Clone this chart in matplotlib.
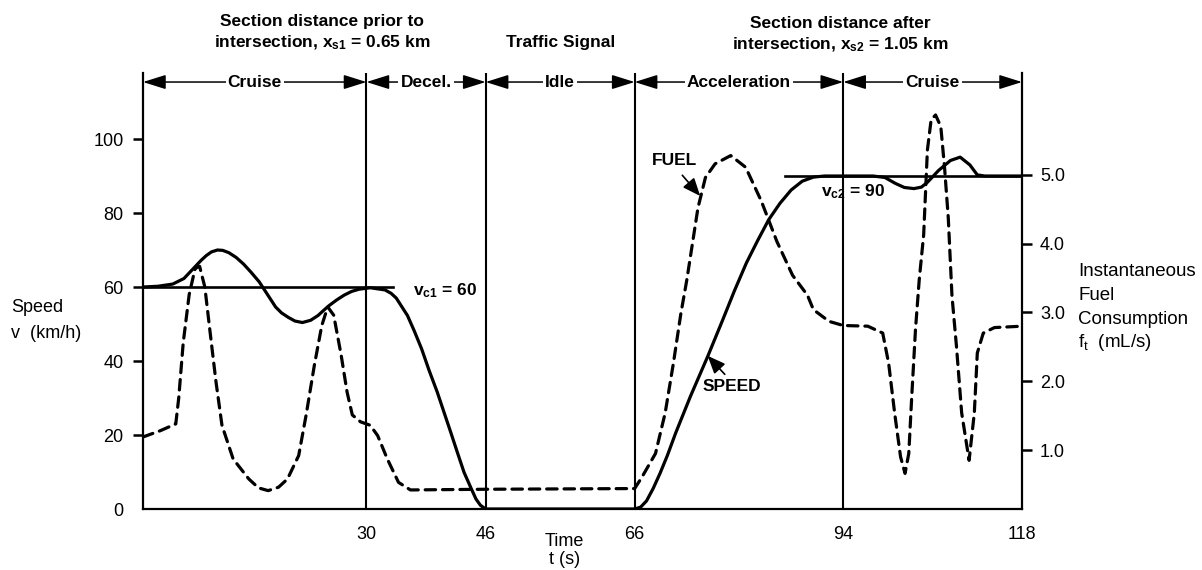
import matplotlib
matplotlib.use("Agg")
import matplotlib.pyplot as plt
from matplotlib.transforms import blended_transform_factory

plt.rcParams["font.family"] = ["Liberation Sans", "DejaVu Sans"]
plt.rcParams["mathtext.fontset"] = "custom"
plt.rcParams["mathtext.rm"] = "Liberation Sans"
plt.rcParams["mathtext.bf"] = "Liberation Sans:bold"
plt.rcParams["mathtext.it"] = "Liberation Sans:italic"
plt.rcParams["lines.scale_dashes"] = False

# ---- data -------------------------------------------------------------
speed_t = [0, 2, 4, 5.5, 6.2, 7, 7.8, 8.5, 9.2, 10, 10.7, 11.5, 12.5, 13.5,
           14.5, 15.6, 16.7, 17.8, 18.6, 19.5, 20.4, 21.4, 22.5, 23.5, 24.2,
           25, 26, 27, 28, 29, 30.5, 32.5, 33.3, 34, 35.5, 36.4, 37.4, 38.4,
           39.5, 40.4, 41.3, 42.2, 43.1, 44, 44.7, 45.3, 46,
           66, 66.8, 67.6, 68.5, 69.4, 70.4, 71.5, 73.5, 75.8, 77.8, 79.4,
           81, 82.5, 84, 85.5, 87, 88.5, 90, 91.5, 94, 98, 99.6, 101, 102.2,
           103.5, 104.5, 105.3, 106.8, 108.4, 109.7, 111, 112, 113, 118]
speed_v = [60, 60.2, 60.8, 62.3, 63.8, 65.5, 67.2, 68.5, 69.5, 70, 69.9, 69.3,
           68, 66.2, 64, 61.4, 58, 54.6, 53, 51.8, 50.8, 50.4, 51, 52.3, 53.6,
           55, 56.5, 57.8, 58.8, 59.4, 59.8, 59.2, 58.3, 57, 52.3, 48.2, 43.3,
           37.5, 31.6, 26.2, 20.8, 15.3, 9.9, 5.8, 2.7, 1.0, 0,
           0, 0.5, 2.2, 5.6, 9.6, 14.5, 20.5, 30.5, 41.2, 51, 59, 66.5, 72.5,
           78.2, 82.6, 86.2, 88.6, 89.7, 90, 90, 90, 89.6, 88, 86.9, 86.6,
           87.0, 88.3, 91.5, 94.2, 95.1, 93, 90.3, 90, 90]

fuel_t = [0, 2.3, 4.4, 4.8, 5.4, 6.2, 7.0, 7.6, 8.3, 9.0, 9.8, 10.6, 12.1,
          14.2, 15.5, 16.8, 18.2, 19.4, 20.9, 21.9, 23.0, 24.0, 24.8, 25.6,
          26.6, 27.4, 28.1, 29.2, 30.5, 31.5, 32.8, 34.3, 35.9, 46, 66, 67,
          68.8, 70.1, 71.2, 72.2, 73.0, 74.5, 75.5, 76.8, 78.9, 80.9, 83, 85.1,
          87.2, 89.2, 90.0, 92.1, 94, 97.3, 99.3, 100.1, 100.9, 101.7, 102.3,
          102.8, 103.2, 103.7, 104.2, 104.8, 105.3, 105.8, 106.4, 107.1, 107.6,
          108.1, 108.6, 109.2, 109.9, 110.9, 111.6, 112.0, 112.8, 114.3, 118]
fuel_f = [1.19, 1.28, 1.38, 1.76, 2.56, 3.26, 3.64, 3.67, 3.37, 2.72, 1.99,
          1.36, 0.87, 0.58, 0.45, 0.41, 0.46, 0.58, 0.92, 1.51, 2.23, 2.81,
          3.08, 2.96, 2.38, 1.84, 1.51, 1.41, 1.36, 1.21, 0.87, 0.53, 0.42,
          0.43, 0.44, 0.61, 0.95, 1.54, 2.26, 2.98, 3.47, 4.52, 4.96, 5.16,
          5.28, 5.11, 4.62, 4.03, 3.54, 3.25, 3.04, 2.87, 2.81, 2.80, 2.70,
          2.26, 1.54, 0.90, 0.66, 0.95, 1.78, 2.75, 3.47, 4.13, 5.36, 5.80,
          5.87, 5.70, 5.11, 4.38, 3.24, 2.51, 1.54, 0.85, 1.54, 2.41, 2.70,
          2.78, 2.80]

boundaries = [30, 46, 66, 94]
sections = [(0, 30, "Cruise"), (30, 46, "Decel."), (46, 66, "Idle"),
            (66, 94, "Acceleration"), (94, 118, "Cruise")]
time_ticks = [30, 46, 66, 94, 118]
speed_ticks = [0, 20, 40, 60, 80, 100]
fuel_ticks = [1.0, 2.0, 3.0, 4.0, 5.0]
vc1, vc2 = 60, 90

# ---- figure -----------------------------------------------------------
W, H = 1202, 570
fig = plt.figure(figsize=(W / 100, H / 100), dpi=100)
ax = fig.add_axes([143 / W, 61 / H, 879 / W, 436 / H])
ax2 = ax.twinx()

ax.set_xlim(0, 118)
ax.set_ylim(0, 117.84)
ax2.set_ylim(0.143, 6.48)

for s in ["top", "right"]:
    ax.spines[s].set_visible(False)
for s in ["top", "left", "bottom"]:
    ax2.spines[s].set_visible(False)
ax.spines["left"].set_linewidth(1.6)
ax.spines["bottom"].set_linewidth(1.6)
ax2.spines["right"].set_linewidth(1.6)

ax.set_xticks(time_ticks)
ax.set_xticklabels([str(t) for t in time_ticks])
ax.tick_params(axis="x", length=0, pad=12, labelsize=13)
ax.set_yticks(speed_ticks)
ax.set_yticklabels([str(v) for v in speed_ticks])
ax.tick_params(axis="y", length=7, width=1.8, pad=7, labelsize=13)
ax.yaxis.get_major_ticks()[0].tick1line.set_visible(False)
ax2.set_yticks(fuel_ticks)
ax2.set_yticklabels([f"{f:.1f}" for f in fuel_ticks])
ax2.tick_params(axis="y", length=7, width=1.8, pad=6, labelsize=13)

# section boundaries
for b in boundaries:
    ax.axvline(b, color="black", lw=1.5)

# cruise speed references
ax.plot([0, 33.6], [vc1, vc1], color="black", lw=1.9)
ax.plot([86.2, 118], [vc2, vc2], color="black", lw=1.9)

# speed and fuel traces
ax.plot(speed_t, speed_v, color="black", lw=2.3, solid_joinstyle="round",
        solid_capstyle="round")
ax2.plot(fuel_t, fuel_f, color="black", lw=2.3, dashes=(7.5, 5),
         dash_capstyle="round", dash_joinstyle="round")

# section arrows along the top
arrow_y = 115.4
for a, b, name in sections:
    ax.annotate("", xy=(a, arrow_y), xytext=(b, arrow_y),
                arrowprops=dict(arrowstyle="<|-|>,head_length=0.7,head_width=0.22",
                                mutation_scale=20, lw=1.1, color="black",
                                shrinkA=0, shrinkB=0), annotation_clip=False)
    ax.text((a + b) / 2, arrow_y, name, ha="center", va="center",
            fontsize=12.5, fontweight="bold",
            bbox=dict(boxstyle="square,pad=0.12", fc="white", ec="none"))

# headings above the sections
tb = blended_transform_factory(ax.transData, fig.transFigure)
ax.text(24, 1 - 33 / H, "Section distance prior to\nintersection, x$_\\mathbf{s1}$ = 0.65 km",
        transform=tb, ha="center", va="center", fontsize=12.5, fontweight="bold",
        linespacing=1.3)
ax.text(56, 1 - 42 / H, "Traffic Signal", transform=tb, ha="center",
        va="center", fontsize=12.5, fontweight="bold")
ax.text(93.6, 1 - 35 / H, "Section distance after\nintersection, x$_\\mathbf{s2}$ = 1.05 km",
        transform=tb, ha="center", va="center", fontsize=12.5, fontweight="bold",
        linespacing=1.3)

# cruise speed labels
ax.text(36.3, 59, "v$_\\mathbf{c1}$ = 60", ha="left", va="center",
        fontsize=12.5, fontweight="bold")
ax.text(91, 85.7, "v$_\\mathbf{c2}$ = 90", ha="left", va="center",
        fontsize=12.5, fontweight="bold")

# curve labels
ax.text(71.3, 94.2, "FUEL", ha="center", va="center", fontsize=12.5,
        fontweight="bold")
ax.annotate("", xy=(74.8, 84.6), xytext=(72.4, 90.2),
            arrowprops=dict(arrowstyle="-|>,head_length=0.6,head_width=0.25",
                            mutation_scale=18, lw=1.2, color="black",
                            shrinkA=0, shrinkB=0))
ax.text(79, 33.2, "SPEED", ha="center", va="center", fontsize=12.5,
        fontweight="bold")
ax.annotate("", xy=(75.8, 41.4), xytext=(78.1, 36.4),
            arrowprops=dict(arrowstyle="-|>,head_length=0.6,head_width=0.25",
                            mutation_scale=18, lw=1.2, color="black",
                            shrinkA=0, shrinkB=0))

# axis titles
fig.text(11 / W, 1 - 308 / H, "Speed", ha="left", va="center", fontsize=13)
fig.text(11 / W, 1 - 333 / H, "v  (km/h)", ha="left", va="center", fontsize=13)
ax.text(56.6, 1 - 541 / H, "Time", transform=tb, ha="center", va="center",
        fontsize=13)
ax.text(56.6, 1 - 559 / H, "t (s)", transform=tb, ha="center", va="center",
        fontsize=13)
right_lines = ["Instantaneous", "Fuel", "Consumption", "f$_\\mathrm{t}$  (mL/s)"]
for i, line in enumerate(right_lines):
    fig.text(1078 / W, 1 - (272 + 23.5 * i) / H, line, ha="left",
             va="center", fontsize=13.5)

fig.savefig("out.png", dpi=100)
